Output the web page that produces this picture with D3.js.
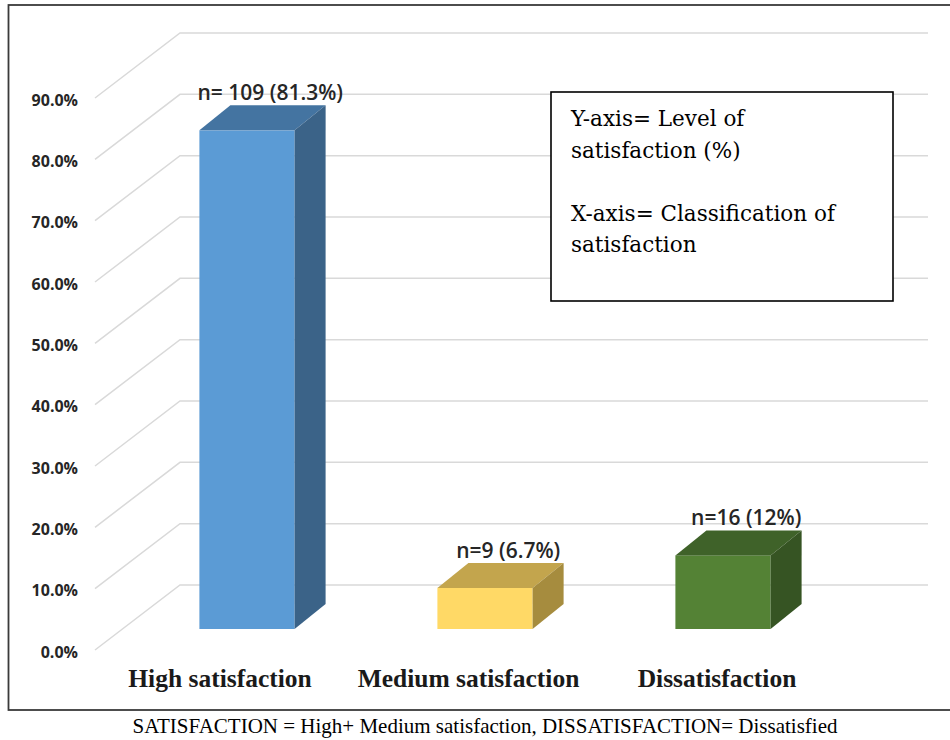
<!DOCTYPE html>
<html>
<head>
<meta charset="utf-8">
<script src="https://cdn.jsdelivr.net/npm/d3@7"></script>
<style>
  html, body { margin: 0; padding: 0; background: #ffffff; }
  svg { display: block; }
</style>
</head>
<body>
<svg id="chart" width="950" height="740"></svg>
<script>
// Satisfaction survey results
const categories = ["High satisfaction", "Medium satisfaction", "Dissatisfaction"];
const percentValues = [81.3, 6.7, 12];
const counts = [109, 9, 16];
const valueLabels = ["n= 109 (81.3%)", "n=9 (6.7%)", "n=16 (12%)"];
const yTicks = [0, 10, 20, 30, 40, 50, 60, 70, 80, 90];
const tickLabels = yTicks.map(v => v.toFixed(1) + "%");
const frontColors = ["#5b9bd5", "#ffd966", "#548235"];
const topColors = ["#4474a1", "#c3a54d", "#3f6229"];
const sideColors = ["#3b6388", "#a68c3e", "#365423"];
const legendLines = ["Y-axis= Level of", "satisfaction (%)", "", "X-axis= Classification of", "satisfaction"];
const footnote = "SATISFACTION = High+ Medium satisfaction, DISSATISFACTION= Dissatisfied";

const svg = d3.select("#chart");

// outer frame
svg.append("rect")
  .attr("x", 8.5).attr("y", 5).attr("width", 960).attr("height", 705)
  .attr("fill", "none").attr("stroke", "#3a3a3a").attr("stroke-width", 1.8);

// value scale on the front plane; the back wall sits up and to the right
const y = d3.scaleLinear().domain([0, 90]).range([650, 98]);
const wallDx = 85, wallDy = -65;
const wallLeft = 95, wallRight = 928;

// bars stand part-way into the depth of the floor
const barShift = -21;
const barY = v => y(v) + barShift;
const depthDx = 31, depthDy = -25;

const xBar = d3.scaleBand().domain(categories)
  .range([128, 842]).paddingInner(0.6).paddingOuter(0.3);
const xLabel = d3.scalePoint().domain(categories)
  .range([95.75, 841.25]).padding(0.5);

// gridlines: left wall diagonals + back wall horizontals
const grid = svg.append("g").attr("stroke", "#d9d9d9").attr("stroke-width", 1.5).attr("fill", "none");
grid.selectAll("path").data(yTicks).join("path")
  .attr("d", v => `M${wallLeft},${y(v)} L${wallLeft + wallDx},${y(v) + wallDy} L${wallRight},${y(v) + wallDy}`);

// tick labels
svg.append("g").selectAll("text").data(yTicks).join("text")
  .attr("x", 78).attr("y", v => y(v) + 2).attr("dy", "0.36em")
  .attr("text-anchor", "end")
  .attr("font-family", "'Open Sans', sans-serif").attr("font-weight", "bold")
  .attr("font-size", "16px").attr("fill", "#262626")
  .text((v, i) => tickLabels[i]);

// 3D columns
const bars = svg.append("g").selectAll("g").data(categories).join("g");
bars.each(function (c, i) {
  const g = d3.select(this);
  const x0 = xBar(c), x1 = x0 + xBar.bandwidth();
  const yb = barY(0), yt = barY(percentValues[i]);
  g.append("rect").attr("x", x0).attr("y", yt).attr("width", x1 - x0).attr("height", yb - yt)
    .attr("fill", frontColors[i]);
  g.append("path")
    .attr("d", `M${x0},${yt} L${x1},${yt} L${x1 + depthDx},${yt + depthDy} L${x0 + depthDx},${yt + depthDy} Z`)
    .attr("fill", topColors[i]);
  g.append("path")
    .attr("d", `M${x1},${yt} L${x1 + depthDx},${yt + depthDy} L${x1 + depthDx},${yb + depthDy} L${x1},${yb} Z`)
    .attr("fill", sideColors[i]);
  g.append("text")
    .attr("x", (x0 + x1) / 2 + depthDx * 0.75)
    .attr("y", yt + depthDy - 5)
    .attr("text-anchor", "middle")
    .attr("font-family", "'Open Sans', sans-serif").attr("font-weight", 600)
    .attr("font-size", "21px").attr("fill", "#262626")
    .text(valueLabels[i]);
});

// category labels
svg.append("g").selectAll("text").data(categories).join("text")
  .attr("x", c => xLabel(c)).attr("y", 687)
  .attr("text-anchor", "middle")
  .attr("font-family", "'Liberation Serif', 'Times New Roman', serif").attr("font-weight", "bold")
  .attr("font-size", "25.5px").attr("fill", "#1a1a1a")
  .text(c => c);

// axis description box
const box = svg.append("g");
box.append("rect").attr("x", 551).attr("y", 92).attr("width", 342).attr("height", 209)
  .attr("fill", "#ffffff").attr("stroke", "#000000").attr("stroke-width", 1.6);
box.selectAll("text").data(legendLines).join("text")
  .attr("x", 571).attr("y", (d, i) => 126 + i * 31.5)
  .attr("font-family", "'DejaVu Serif', serif")
  .attr("font-size", "21.5px").attr("fill", "#000000")
  .text(d => d);

// footnote, sized to span the width under the frame
const note = svg.append("text")
  .attr("x", 485).attr("y", 733)
  .attr("text-anchor", "middle")
  .attr("font-family", "'Liberation Serif', 'Times New Roman', serif")
  .attr("font-size", "20px").attr("fill", "#000000")
  .text(footnote);
const noteWidth = note.node().getComputedTextLength();
note.attr("font-size", (20 * 705 / noteWidth).toFixed(2) + "px");
</script>
</body>
</html>
